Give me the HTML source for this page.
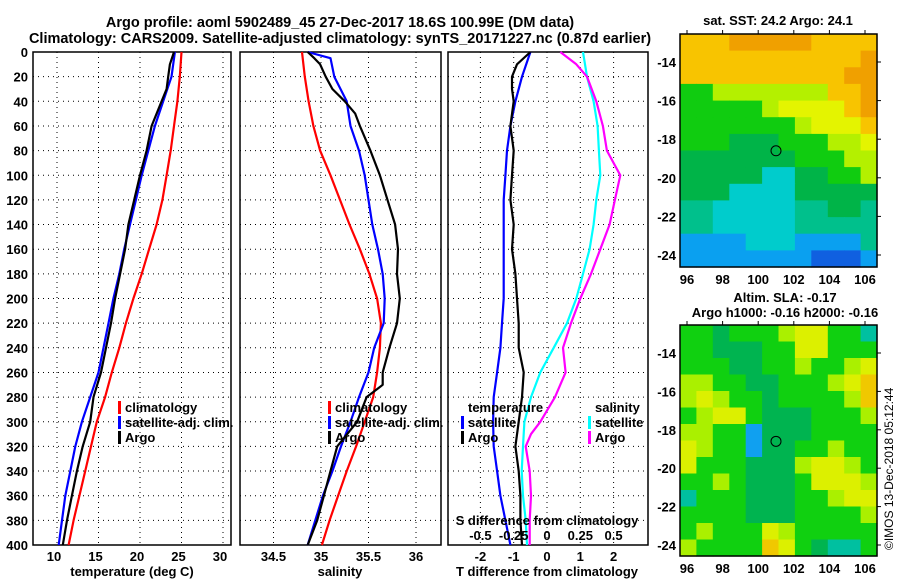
<!DOCTYPE html>
<html><head><meta charset="utf-8"><style>
body{margin:0;background:#fff}
svg text{font-family:"Liberation Sans",sans-serif;font-weight:bold;fill:#000}
</style></head><body>
<svg id="c" width="900" height="580" xmlns="http://www.w3.org/2000/svg">
<text x="340" y="27" font-size="14.5" text-anchor="middle">Argo profile: aoml 5902489_45 27-Dec-2017 18.6S 100.99E (DM data)</text>
<text x="340" y="43" font-size="14.5" text-anchor="middle">Climatology: CARS2009. Satellite-adjusted climatology: synTS_20171227.nc (0.87d earlier)</text>
<text x="778" y="25" font-size="13" text-anchor="middle">sat. SST: 24.2 Argo: 24.1</text>
<text x="785" y="302" font-size="13" text-anchor="middle">Altim. SLA: -0.17</text>
<text x="785" y="317" font-size="13" text-anchor="middle">Argo h1000: -0.16 h2000: -0.16</text>
<text transform="translate(893,550) rotate(-90)" font-size="12" style="font-weight:normal">©IMOS 13-Dec-2018 05:12:44</text>
</svg>
<script>
// ---- data ----
const depths=[0,20,40,60,80,100,120,140,160,180,200,220,240,260,280,300,320,340,360,380,400];
const tClim=[25.0,24.8,24.5,24.1,23.7,23.2,22.7,22.0,21.1,20.2,19.2,18.3,17.5,16.6,15.8,14.8,14.1,13.4,12.7,12.0,11.4];
const tSat=[24.2,23.8,22.8,21.8,21.0,20.2,19.5,18.8,18.1,17.5,16.8,16.2,15.6,15.0,14.0,13.0,12.2,11.6,11.0,10.6,10.2];
const argoDepths=[0,10,20,30,40,60,80,100,120,140,160,180,200,220,240,260,280,300,320,340,360,380,400];
const tArgo=[24.1,23.6,23.4,23.2,22.6,21.4,20.8,20.0,19.3,18.6,18.2,17.6,17.0,16.5,15.9,15.3,14.4,14.0,13.1,12.4,11.8,11.2,10.7];
const sClim=[34.80,34.83,34.87,34.92,34.99,35.10,35.20,35.30,35.41,35.51,35.59,35.63,35.62,35.59,35.55,35.46,35.37,35.27,35.18,35.09,35.01];
const satSDepths=[0,5,20,40,60,80,100,120,140,160,180,200,220,240,260,280,300,320,340,360,380,400];
const sSat=[34.86,35.10,35.14,35.27,35.31,35.40,35.46,35.50,35.54,35.60,35.65,35.67,35.66,35.56,35.50,35.40,35.31,35.21,35.12,35.02,34.94,34.86];
const argoSDepths=[0,5,10,20,30,40,50,60,80,100,120,140,160,180,200,220,240,260,270,280,300,320,340,360,380,400];
const sArgo=[34.86,34.93,34.99,35.05,35.12,35.25,35.36,35.41,35.52,35.62,35.70,35.78,35.81,35.80,35.83,35.80,35.72,35.65,35.65,35.48,35.38,35.17,35.10,35.03,34.96,34.86];
const dTArgo=[-0.5,-0.9,-1.05,-1.05,-1.0,-1.1,-1.0,-1.05,-1.1,-1.0,-1.05,-0.95,-0.9,-0.85,-0.85,-0.7,-0.75,-0.85,-0.95,-0.85,-0.8,-0.8,-0.75];
const dTSat=[-0.5,-0.75,-0.95,-1.1,-1.2,-1.25,-1.3,-1.3,-1.3,-1.3,-1.3,-1.35,-1.4,-1.5,-1.6,-1.62,-1.6,-1.5,-1.4,-1.25,-1.1];
const dSSat=[0.27,0.30,0.35,0.38,0.39,0.40,0.37,0.35,0.32,0.27,0.22,0.15,0.05,-0.05,-0.12,-0.17,-0.18,-0.19,-0.18,-0.16,-0.15];
const dSArgoDepths=[0,10,20,40,60,80,100,120,140,160,180,200,220,240,260,280,300,310,320,340,360,380,400];
const dSArgo=[0.10,0.22,0.30,0.37,0.42,0.45,0.55,0.51,0.47,0.40,0.33,0.25,0.18,0.12,0.14,0.06,-0.05,-0.12,-0.16,-0.13,-0.12,-0.13,-0.13];
const depthTicks=[0,20,40,60,80,100,120,140,160,180,200,220,240,260,280,300,320,340,360,380,400];
const tTicks=[10,15,20,25,30];
const sTicks=[34.5,35,35.5,36];
const dTTicks=[-2,-1,0,1,2];
const dSTicks=[-0.5,-0.25,0,0.25,0.5];
const dSTickLabels=["-0.5","-0.25","0","0.25","0.5"];
const latTicks=[-14,-16,-18,-20,-22,-24];
const lonTicks=[96,98,100,102,104,106];
const sstGrid=["oooOOOOOoooo","oooooooooooO","ooooooooooOO","GGyyyyyyyooO","GGGGGyYYYYoO","GGGGGGGyYYYo","GGGgggGGGyyY","gggggggGGGyy","gggggccggGGy","gggccccggggg","ttcccccttggt","ttcccccttttt","bbbbcccbbbbt","bbbbbbbbBBBb"];
const slaGrid=["GGgGGGyYYGGc","GGgggGGYYGGG","GGGggGGyGGyY","yyGGggGGGyYO","yYyGGgGGGGyO","GyYYGgggGGGy","yyGGbgggGGGG","YyGGbggGGyGG","YGGGgggyYYyG","GGyGgggGYYYy","cGGGgggGGyYY","GGGGgggGGGGy","GyGGGYyGGGGG","yGGGGOYGgccG"];
const argoLon=101.0, argoLat=-18.6;
// ---- drawing ----
const NS="http://www.w3.org/2000/svg", svg=document.getElementById('c');
function el(t,a,p){const e=document.createElementNS(NS,t);for(const k in a)e.setAttribute(k,a[k]);(p||svg).appendChild(e);return e;}
const Y0=52,Y1=545; const yD=d=>Y0+(d/400)*(Y1-Y0);
function panel(x0,x1,xs,xticks,xlabels,name){
  const g=el('g',{});
  xticks.forEach(v=>{const l=el('line',{x1:xs(v),x2:xs(v),y1:Y0,y2:Y1,stroke:'#000','stroke-dasharray':'1,4','stroke-width':1},g);});
  depthTicks.forEach(d=>{if(d===0||d===400)return;const l=el('line',{x1:x0,x2:x1,y1:yD(d),y2:yD(d),stroke:'#000','stroke-dasharray':'1,4','stroke-width':1},g);});
  const r=el('rect',{x:x0,y:Y0,width:x1-x0,height:Y1-Y0,fill:'none',stroke:'#000','stroke-width':1.5},g);
  
  xticks.forEach((v,i)=>{const t=el('text',{x:xs(v)-(name==='temperature-panel'?3:0),y:561,'font-size':13,'text-anchor':'middle'},g);t.textContent=xlabels[i];});
  return g;
}
function line(xv,dv,xs,col,name){
  const pts=xv.map((v,i)=>xs(v).toFixed(1)+','+yD(dv[i]).toFixed(1)).join(' ');
  const p=el('polyline',{points:pts,fill:'none',stroke:col,'stroke-width':2.2,'stroke-linejoin':'round'});
  
}
function txt(x,y,s,size,anchor,name){const t=el('text',{x:x,y:y,'font-size':size,'text-anchor':anchor||'start'});t.textContent=s;return t;}
function leg(x,y,col,s,name){const r=el('rect',{x:x,y:y-11,width:3,height:13,fill:col});txt(x+7,y,s,13,'start',name);}
depthTicks.forEach(d=>txt(28,yD(d)+5,String(d),13,'end','y-tick-label'));
const xT=v=>57+(v-10)*8.3;
panel(33,231,xT,tTicks,tTicks.map(String),'temperature-panel');
line(tClim,depths,xT,'#f00','temp-climatology-line');
line(tSat,depths,xT,'#00f','temp-satellite-line');
line(tArgo,argoDepths,xT,'#000','temp-argo-line');
txt(132,576,'temperature (deg C)',13,'middle','x-axis-title-temperature');
leg(118,412,'#f00','climatology','legend-climatology');
leg(118,427,'#00f','satellite-adj. clim.','legend-satellite');
leg(118,442,'#000','Argo','legend-argo');
const xS=v=>273.5+(v-34.5)*95;
panel(240,441,xS,sTicks,sTicks.map(String),'salinity-panel');
line(sClim,depths,xS,'#f00','sal-climatology-line');
line(sSat,satSDepths,xS,'#00f','sal-satellite-line');
line(sArgo,argoSDepths,xS,'#000','sal-argo-line');
txt(340,576,'salinity',13,'middle','x-axis-title-salinity');
leg(328,412,'#f00','climatology','legend-climatology-2');
leg(328,427,'#00f','satellite-adj. clim.','legend-satellite-2');
leg(328,442,'#000','Argo','legend-argo-2');
const xdT=v=>547+v*33.3, xdS=v=>547+v*133.2;
panel(448,648,xdT,dTTicks,dTTicks.map(String),'difference-panel');
line(dTSat,depths,xdT,'#00f','dT-satellite-line');
line(dTArgo,argoDepths,xdT,'#000','dT-argo-line');
line(dSSat,depths,xdS,'#0ff','dS-satellite-line');
line(dSArgo,dSArgoDepths,xdS,'#f0f','dS-argo-line');
txt(547,576,'T difference from climatology',13,'middle','x-axis-title-dT');
txt(547,525,'S difference from climatology',13,'middle','top-axis-title-dS');
dSTicks.forEach((v,i)=>txt(xdS(v),540,dSTickLabels[i],13,'middle','dS-tick-label'));
txt(468,412,'temperature',13,'start','legend-title-temperature');
leg(461,427,'#00f','satellite','legend-t-satellite');
leg(461,442,'#000','Argo','legend-t-argo');
txt(595,412,'salinity',13,'start','legend-title-salinity');
leg(588,427,'#0ff','satellite','legend-s-satellite');
leg(588,442,'#f0f','Argo','legend-s-argo');
const pal={o:'#f8c400',O:'#f0a000',Y:'#e4f400',y:'#b4f000',G:'#10cc10',g:'#00b448',t:'#00c08c',c:'#00cccc',b:'#0aa0f0',B:'#1060e0'};
const pal2={O:'#f0c800',Y:'#dcf000',y:'#aaf000',G:'#10d010',g:'#00b450',c:'#00c0a0',b:'#10a0f0'};
function map(top,bot,lat14,lat24,grid,p,name){
  const x0=680,x1=877;const g=el('g',{});
  const lx=v=>687+(v-96)*17.8, ly=v=>lat14+(v+14)*(lat24-lat14)/-10;
  const rows=grid.length, cols=grid[0].length, cw=(x1-x0)/cols, ch=(bot-top)/rows;
  grid.forEach((r,i)=>{for(let j=0;j<cols;j++){const c=el('rect',{x:(x0+j*cw).toFixed(1),y:(top+i*ch).toFixed(1),width:(cw+0.6).toFixed(1),height:(ch+0.6).toFixed(1),fill:p[r[j]]},g);}});
  const f=el('rect',{x:x0,y:top,width:x1-x0,height:bot-top,fill:'none',stroke:'#000','stroke-width':1.5},g);
  latTicks.forEach(v=>{el('line',{x1:x1,x2:x1+4,y1:ly(v),y2:ly(v),stroke:'#000'},g);txt(676,ly(v)+5,String(v),13,'end','lat-tick-label');});
  lonTicks.forEach(v=>{el('line',{x1:lx(v),x2:lx(v),y1:top-4,y2:top,stroke:'#000'},g);txt(lx(v),bot+17,String(v),13,'middle','lon-tick-label');});
  const m=el('circle',{cx:lx(argoLon),cy:ly(argoLat),r:5,fill:'none',stroke:'#000','stroke-width':1},g);
}
map(34,267,62,255,sstGrid,pal,'sst-map');
map(325,556,353,545,slaGrid,pal2,'sla-map');
</script>
</body></html>
